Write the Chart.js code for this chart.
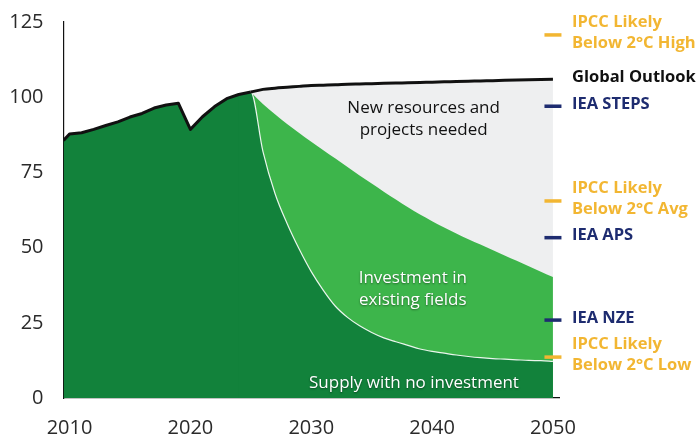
<!DOCTYPE html>
<html>
<head>
<meta charset="utf-8">
<script src="https://cdn.jsdelivr.net/npm/chart.js@4.4.1/dist/chart.umd.min.js"></script>
<style>
    html, body { margin: 0; padding: 0; background: #fff; }
    canvas { display: block; }
</style>
</head>
<body>
<canvas id="supplyChart" width="699" height="439"></canvas>
<script>
// Liquids supply/demand, million barrels per day
const historyYears = [2009.5, 2010, 2011, 2012, 2013, 2014, 2015, 2016, 2017, 2018, 2019, 2020, 2021, 2022, 2023, 2024, 2025];
const historySupply = [85.6, 87.8, 88.2, 89.3, 90.6, 91.8, 93.4, 94.6, 96.4, 97.4, 98.0, 89.3, 93.5, 96.9, 99.5, 100.9, 101.7];

const outlookYears = [2025, 2026, 2027, 2028, 2029, 2030, 2031, 2032, 2033, 2034, 2035, 2036, 2037,
    2038, 2039, 2040, 2041, 2042, 2043, 2044, 2045, 2046, 2047, 2048, 2049, 2050];
const globalOutlook = [101.7, 102.6, 103.0, 103.3, 103.6, 103.9, 104.0, 104.1, 104.3, 104.4, 104.5, 104.6, 104.7,
    104.8, 104.9, 105.0, 105.1, 105.2, 105.3, 105.4, 105.5, 105.6, 105.7, 105.8, 105.9, 106.0];
const noInvestment = [101.7, 82.0, 68.0, 58.0, 49.5, 42.0, 35.8, 30.5, 26.8, 24.0, 21.8, 20.0, 18.7,
    17.5, 16.3, 15.5, 14.9, 14.3, 13.8, 13.4, 13.1, 12.9, 12.7, 12.5, 12.4, 12.2];
const existingFields = [101.7, 97.7, 94.3, 91.1, 88.1, 85.2, 82.4, 79.6, 76.8, 74.0, 71.3, 68.6, 66.0,
    63.4, 61.0, 58.8, 56.7, 54.7, 52.8, 51.0, 49.2, 47.4, 45.6, 43.8, 42.0, 40.2];

const tickYears = [2010, 2020, 2030, 2040, 2050];
const yTicks = [0, 25, 50, 75, 100, 125];

// 2050 scenario benchmarks shown at the right edge
const benchmarkNames = [
    ["IPCC Likely", "Below 2°C High"],
    ["IEA STEPS"],
    ["IPCC Likely", "Below 2°C Avg"],
    ["IEA APS"],
    ["IEA NZE"],
    ["IPCC Likely", "Below 2°C Low"]
];
const benchmarkValues = [120.7, 97.0, 65.5, 53.3, 25.9, 13.6];

const YELLOW = "#f2b632";
const NAVY = "#1e2c70";
const benchmarkColors = [YELLOW, NAVY, YELLOW, NAVY, NAVY, YELLOW];

const areaNotes = [
    { lines: ["New resources and", "projects needed"], year: 2039.3, value: 92.8, color: "#111" },
    { lines: ["Investment in", "existing fields"], year: 2038.4, value: 36.2, color: "#fff" },
    { lines: ["Supply with no investment"], year: 2038.5, value: 5.0, color: "#fff" }
];

const FONT = "'Open Sans', 'Noto Sans', sans-serif";
const DARK_GREEN = "#12823b";
const LIGHT_GREEN = "#3db54b";
const LIGHT_GREY = "#eeeff0";

function toPoints(xs, ys) {
    return xs.map((x, i) => ({ x: x, y: ys[i] }));
}

/**
 * Draws the text labels: scenario names on the right and the notes inside the areas.
 */
const labelPlugin = {
    id: "labels",
    afterDraw(chart) {
        const ctx = chart.ctx;
        const { x, y } = chart.scales;
        const left = chart.chartArea.right + 13;
        const lineH = 21;
        ctx.save();
        ctx.textBaseline = "middle";
        ctx.textAlign = "left";
        ctx.font = "bold 16.5px " + FONT;

        // Global Outlook label at the end of the black line
        ctx.fillStyle = "#111";
        ctx.fillText("Global Outlook", left, y.getPixelForValue(globalOutlook[globalOutlook.length - 1]) - 2);

        benchmarkNames.forEach((lines, i) => {
            const cy = y.getPixelForValue(benchmarkValues[i]) - 2;
            const top = cy - (lines.length - 1) * lineH / 2;
            ctx.fillStyle = benchmarkColors[i];
            lines.forEach((t, j) => ctx.fillText(t, left, top + j * lineH));
        });

        ctx.textAlign = "center";
        ctx.font = "17px " + FONT;
        areaNotes.forEach((note) => {
            const cx = x.getPixelForValue(note.year);
            const cy = y.getPixelForValue(note.value);
            const top = cy - (note.lines.length - 1) * 22 / 2;
            if (note.color === "#fff") {
                ctx.shadowColor = "rgba(0,0,0,0.45)";
                ctx.shadowBlur = 2;
                ctx.shadowOffsetY = 1;
            } else {
                ctx.shadowColor = "transparent";
            }
            ctx.fillStyle = note.color;
            note.lines.forEach((t, j) => ctx.fillText(t, cx, top + j * 22));
        });
        ctx.restore();
    }
};

function drawSupplyChart() {
    const ctx = document.getElementById("supplyChart").getContext("2d");

    const history = toPoints(historyYears, historySupply);
    // start the decline fill one year early so it overlaps the history fill (no seam at 2025)
    const last = historyYears.length - 2;
    const decline = toPoints([historyYears[last]], [historySupply[last]])
        .concat(toPoints(outlookYears, noInvestment));

    new Chart(ctx, {
        type: "line",
        data: {
            datasets: [
                {
                    label: "Benchmarks",
                    data: benchmarkValues.map((v) => ({ x: 2050, y: v })),
                    showLine: false,
                    pointStyle: "line",
                    pointRadius: 8.5,
                    pointBorderWidth: 3.5,
                    pointBorderColor: benchmarkColors,
                    clip: false
                },
                {
                    label: "History",
                    data: history,
                    borderColor: "#111",
                    borderWidth: 3,
                    borderJoinStyle: "round",
                    pointRadius: 0,
                    fill: false,
                    tension: 0
                },
                {
                    label: "Global Outlook",
                    data: toPoints(outlookYears, globalOutlook),
                    borderColor: "#111",
                    borderWidth: 3,
                    pointRadius: 0,
                    fill: false,
                    cubicInterpolationMode: "monotone"
                },
                {
                    label: "Supply with no investment",
                    data: decline,
                    borderColor: "rgba(255,255,255,0.9)",
                    borderWidth: 1.2,
                    backgroundColor: DARK_GREEN,
                    pointRadius: 0,
                    fill: "origin",
                    cubicInterpolationMode: "monotone"
                },
                {
                    label: "History supply",
                    data: history,
                    borderWidth: 0,
                    borderColor: DARK_GREEN,
                    backgroundColor: DARK_GREEN,
                    pointRadius: 0,
                    fill: "origin",
                    tension: 0
                },
                {
                    label: "Investment in existing fields",
                    data: toPoints(outlookYears, existingFields),
                    borderWidth: 0,
                    borderColor: LIGHT_GREEN,
                    backgroundColor: LIGHT_GREEN,
                    pointRadius: 0,
                    fill: "origin",
                    cubicInterpolationMode: "monotone"
                },
                {
                    label: "New resources and projects needed",
                    data: toPoints(outlookYears, globalOutlook),
                    borderWidth: 0,
                    borderColor: LIGHT_GREY,
                    backgroundColor: LIGHT_GREY,
                    pointRadius: 0,
                    fill: "origin",
                    cubicInterpolationMode: "monotone"
                }
            ]
        },
        options: {
            responsive: false,
            animation: false,
            events: [],
            layout: { padding: { top: 0, right: 140, left: 0, bottom: 0 } },
            plugins: {
                legend: { display: false },
                tooltip: { enabled: false }
            },
            scales: {
                x: {
                    type: "linear",
                    min: 2009.5,
                    max: 2050.5,
                    afterBuildTicks: (scale) => {
                        scale.ticks = tickYears.map((v) => ({ value: v }));
                    },
                    afterFit: (scale) => { scale.height = 41; },
                    grid: { display: false, drawTicks: false },
                    border: { color: "#111", width: 1.2 },
                    ticks: {
                        padding: 18,
                        color: "#2a2a2a",
                        font: { family: FONT, size: 20 },
                        callback: (v) => String(v)
                    }
                },
                y: {
                    min: 0,
                    max: 125,
                    afterBuildTicks: (scale) => {
                        scale.ticks = yTicks.map((v) => ({ value: v }));
                    },
                    afterFit: (scale) => {
                        // pin the plot area: axis 63.5px wide, top edge at 22px
                        scale.width = 63.5;
                        scale.paddingTop = 22;
                        scale.paddingBottom = 0;
                    },
                    grid: { display: false, drawTicks: false },
                    border: { color: "#111", width: 1.2 },
                    ticks: {
                        padding: 20,
                        color: "#2a2a2a",
                        font: { family: FONT, size: 20 }
                    }
                }
            }
        },
        plugins: [labelPlugin]
    });
}

document.addEventListener("DOMContentLoaded", drawSupplyChart);
</script>
</body>
</html>
